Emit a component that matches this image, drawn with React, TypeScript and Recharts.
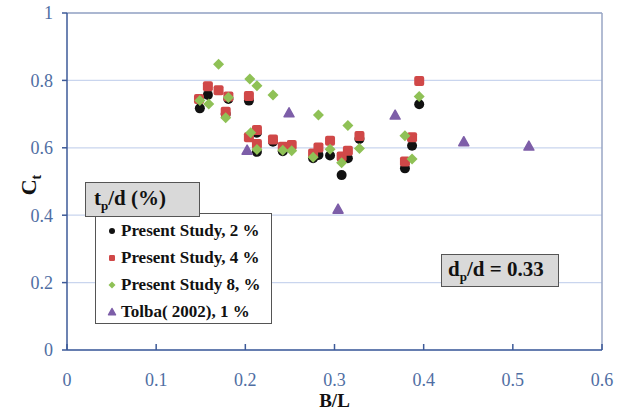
import React from 'react';
import {
  ScatterChart,
  Scatter,
  XAxis,
  YAxis,
  CartesianGrid,
  ReferenceLine,
} from 'recharts';

// B/L vs Ct, dp/d = 0.33
const study2 = [
  [0.149, 0.717], [0.158, 0.757], [0.178, 0.7], [0.181, 0.745], [0.204, 0.74],
  [0.213, 0.645], [0.213, 0.588], [0.231, 0.618], [0.242, 0.59], [0.276, 0.569],
  [0.282, 0.579], [0.295, 0.577], [0.308, 0.519], [0.315, 0.569], [0.328, 0.626],
  [0.379, 0.539], [0.387, 0.606], [0.395, 0.729],
];
const study4 = [
  [0.148, 0.745], [0.158, 0.783], [0.17, 0.771], [0.178, 0.707], [0.181, 0.752],
  [0.204, 0.754], [0.204, 0.631], [0.213, 0.653], [0.213, 0.611], [0.231, 0.625],
  [0.242, 0.603], [0.252, 0.608], [0.276, 0.583], [0.282, 0.601], [0.295, 0.621],
  [0.308, 0.574], [0.315, 0.591], [0.328, 0.635], [0.379, 0.559], [0.387, 0.631],
  [0.395, 0.798],
];
const study8 = [
  [0.149, 0.74], [0.159, 0.73], [0.17, 0.848], [0.178, 0.689], [0.181, 0.749],
  [0.205, 0.804], [0.206, 0.645], [0.213, 0.784], [0.213, 0.595], [0.231, 0.757],
  [0.242, 0.593], [0.252, 0.591], [0.276, 0.572], [0.282, 0.697], [0.295, 0.596],
  [0.308, 0.556], [0.315, 0.666], [0.328, 0.598], [0.379, 0.636], [0.387, 0.567],
  [0.395, 0.752],
];
const tolba = [
  [0.202, 0.593], [0.249, 0.704], [0.304, 0.418], [0.368, 0.697], [0.445, 0.618],
  [0.518, 0.605],
];

const xTicks = [0, 0.1, 0.2, 0.3, 0.4, 0.5, 0.6];
const yTicks = [0, 0.2, 0.4, 0.6, 0.8, 1];

const toPoints = (arr: number[][]) => arr.map(([x, y]) => ({ x, y }));

const SERIF = '"Liberation Serif", "DejaVu Serif", serif';
const AXIS = '#3d5a98';
const TICK_TEXT = '#4f6ea3';

type Kind = 'circle' | 'square' | 'diamond' | 'triangle';

const Marker = ({ kind, cx, cy, s, fill }: { kind: Kind; cx: number; cy: number; s: number; fill: string }) => {
  if (kind === 'circle') return <circle cx={cx} cy={cy} r={s / 2} fill={fill} />;
  if (kind === 'square')
    return <rect x={cx - s / 2} y={cy - s / 2} width={s} height={s} rx={s / 5} fill={fill} />;
  if (kind === 'diamond') {
    const h = s / 2 + 0.5;
    return <polygon points={`${cx},${cy - h} ${cx + h},${cy} ${cx},${cy + h} ${cx - h},${cy}`} fill={fill} />;
  }
  const h = s / 2;
  return (
    <polygon
      points={`${cx},${cy - h} ${cx + h},${cy + h * 0.8} ${cx - h},${cy + h * 0.8}`}
      fill={fill}
      stroke={fill}
      strokeLinejoin="round"
      strokeWidth={1.5}
    />
  );
};

const series = [
  { name: 'Present Study, 2 %', data: toPoints(study2), kind: 'circle' as Kind, color: '#111111' },
  { name: 'Present Study, 4 %', data: toPoints(study4), kind: 'square' as Kind, color: '#d04848' },
  { name: 'Present Study 8, %', data: toPoints(study8), kind: 'diamond' as Kind, color: '#8fc156' },
  { name: 'Tolba( 2002), 1 %', data: toPoints(tolba), kind: 'triangle' as Kind, color: '#7d5ea8' },
];

// x ticks point up into the plot, labels sit well below the axis
const XTick = (props: any) => {
  const { x, y, payload } = props;
  return (
    <g>
      <line x1={x} x2={x} y1={y} y2={y - 6} stroke={AXIS} strokeWidth={1.5} />
      <text x={x} y={y + 36} textAnchor="middle" fill={TICK_TEXT} fontSize={18} fontFamily={SERIF}>
        {payload.value}
      </text>
    </g>
  );
};

const LegendBox = () => (
  <div style={{ position: 'absolute', left: 85, top: 182, width: 188, height: 142, fontFamily: SERIF }}>
    <div
      style={{
        position: 'absolute',
        left: 10,
        top: 31,
        width: 177,
        height: 111,
        background: '#fff',
        border: '1px solid #555',
        boxSizing: 'border-box',
        paddingTop: 3,
      }}
    >
      {series.map((s) => (
        <div key={s.name} style={{ display: 'flex', alignItems: 'center', height: 27, paddingLeft: 10, whiteSpace: 'nowrap' }}>
          <svg width={12} height={12} style={{ marginRight: 3 }}>
            <Marker kind={s.kind} cx={6} cy={6} s={s.kind === 'triangle' ? 7 : 6} fill={s.color} />
          </svg>
          <span style={{ fontWeight: 'bold', fontSize: 17, color: '#111' }}>{s.name}</span>
        </div>
      ))}
    </div>
    <div
      style={{
        position: 'absolute',
        left: 0,
        top: 0,
        width: 115,
        height: 35,
        background: '#d9d9d9',
        border: '1px solid #555',
        boxSizing: 'border-box',
        fontWeight: 'bold',
        fontSize: 21,
        paddingLeft: 8,
        lineHeight: '30px',
        color: '#111',
      }}
    >
      t<sub style={{ fontSize: 13 }}>p</sub>/d (%)
    </div>
  </div>
);

export default function App() {
  return (
    <div style={{ position: 'absolute', left: 0, top: 0, width: 627, height: 416, background: '#fff' }}>
      <ScatterChart width={627} height={416} margin={{ top: 13, right: 25, bottom: 0, left: 17 }}>
        <CartesianGrid vertical={false} stroke="#c9d5ee" strokeWidth={1.2} />
        <XAxis
          type="number"
          dataKey="x"
          domain={[0, 0.6]}
          ticks={xTicks}
          height={66}
          stroke={AXIS}
          strokeWidth={1.5}
          tickLine={false}
          tickSize={0}
          tickMargin={0}
          tick={<XTick />}
          label={{
            value: 'B/L',
            position: 'insideBottom',
            offset: 9,
            style: { fontFamily: SERIF, fontWeight: 'bold', fontSize: 19, fill: '#111' },
          }}
        />
        <YAxis
          type="number"
          dataKey="y"
          domain={[0, 1]}
          ticks={yTicks}
          width={50}
          stroke={AXIS}
          strokeWidth={1.5}
          tickSize={5}
          tickMargin={9}
          tick={{ fill: TICK_TEXT, fontSize: 18, fontFamily: SERIF }}
          label={{
            content: () => (
              <text
                x={36}
                y={185}
                transform="rotate(-90 36 185)"
                textAnchor="middle"
                style={{ fontFamily: SERIF, fontWeight: 'bold', fontSize: 22, fill: '#111' }}
              >
                C<tspan fontSize={14} dy={5}>t</tspan>
              </text>
            ),
          }}
        />
        <ReferenceLine y={1} stroke="#98a6c4" strokeWidth={1.5} />
        <ReferenceLine x={0.6} stroke="#98a6c4" strokeWidth={1.5} />
        {series.map((s) => (
          <Scatter
            key={s.name}
            name={s.name}
            data={s.data}
            fill={s.color}
            isAnimationActive={false}
            shape={(p: any) => <Marker kind={s.kind} cx={p.cx} cy={p.cy} s={10} fill={s.color} />}
          />
        ))}
      </ScatterChart>
      <LegendBox />
      <div
        style={{
          position: 'absolute',
          left: 441,
          top: 254,
          width: 118,
          height: 33,
          background: '#d9d9d9',
          border: '1px solid #555',
          boxSizing: 'border-box',
          fontFamily: SERIF,
          fontWeight: 'bold',
          fontSize: 21,
          lineHeight: '28px',
          paddingLeft: 6,
          color: '#111',
          whiteSpace: 'nowrap',
        }}
      >
        d<sub style={{ fontSize: 13 }}>p</sub>/d = 0.33
      </div>
    </div>
  );
}
